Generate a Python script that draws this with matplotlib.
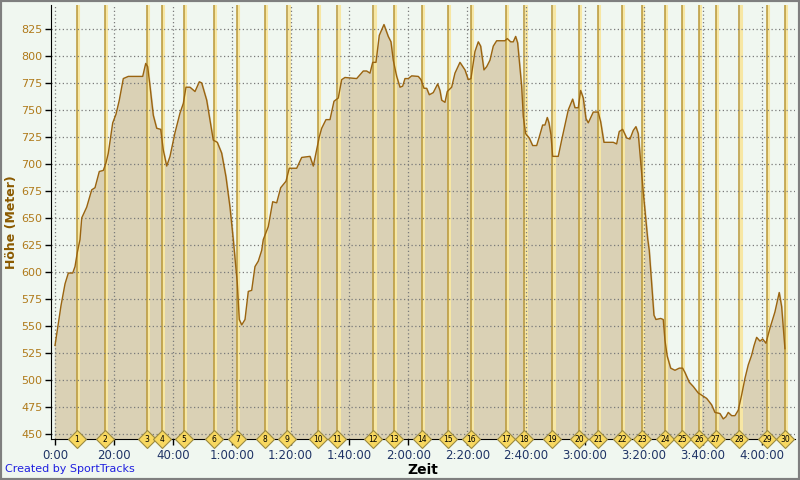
import matplotlib
matplotlib.use("Agg")
from matplotlib import pyplot as plt
from matplotlib.patches import Rectangle
from matplotlib.ticker import FuncFormatter, MultipleLocator

# elevation profile: time in minutes, height in metres
minutes = [0, 2.04, 3.40, 4.52, 6.01, 6.79, 7.57, 8.49, 9.07, 10.76, 12.46, 13.58,
           15.04, 16.40, 17.32, 18.10, 19.59, 20.71, 21.83, 23.19, 24.89, 27.16,
           29.78, 30.80, 31.48, 32.26, 33.38, 34.53, 35.89, 36.77, 37.93, 39.05,
           40.75, 42.44, 43.57, 44.48, 45.84, 47.54, 49.00, 49.81, 51.51, 53.75,
           55.11, 56.60, 58.06, 59.42, 60.54, 61.90, 62.58, 63.40, 64.52, 65.64,
           66.79, 67.91, 69.03, 70.19, 70.73, 72.43, 73.92, 75.28, 76.64, 78.44,
           79.56, 82.07, 83.77, 86.59, 87.71, 89.75, 90.56, 92.02, 93.38, 94.74,
           96.20, 97.35, 98.47, 102.44, 104.69, 105.84, 106.96, 107.88, 109.00,
           110.12, 111.71, 113.17, 114.09, 114.87, 116.03, 117.15, 118.06, 118.85,
           119.97, 121.12, 123.36, 124.28, 125.30, 126.21, 127.10, 128.45, 129.95,
           130.73, 131.31, 132.43, 133.21, 134.70, 135.82, 137.52, 139.22, 140.34,
           141.26, 142.61, 143.74, 144.55, 145.67, 146.59, 147.71, 148.83, 149.98,
           152.80, 153.58, 154.74, 155.62, 156.43, 157.11, 157.66, 158.47, 159.02,
           159.83, 161.05, 162.21, 163.57, 164.45, 165.60, 166.38, 167.17, 167.74,
           168.42, 169.00, 170.90, 172.05, 173.17, 174.30, 175.79, 176.57, 177.69,
           178.51, 179.39, 180.31, 181.09, 182.79, 184.48, 185.30, 186.42, 189.58,
           190.73, 191.61, 192.77, 194.13, 195.25, 196.37, 197.28, 198.07, 198.64,
           199.22, 200.00, 200.68, 201.26, 201.80, 202.61, 203.40, 204.07, 205.67,
           206.55, 207.13, 207.91, 209.07, 210.53, 211.99, 213.14, 213.92, 215.38,
           216.74, 218.44, 220.14, 221.29, 222.99, 224.11, 225.81, 226.93, 227.84,
           228.63, 229.78, 230.90, 232.02, 233.17, 234.30, 235.42, 236.57, 237.35,
           238.27, 239.39, 240.31, 241.43, 242.79, 244.48, 245.94, 246.76, 247.30,
           247.88]
height = [532, 569, 589, 599, 599, 605, 618, 630, 650, 660, 676, 678,
          693, 694, 701, 710, 738, 746, 759, 779, 781, 781,
          781, 793, 790, 772, 745, 733, 732, 713, 698, 707,
          729, 747, 756, 771, 771, 767, 776, 775, 759, 722,
          720, 710, 688, 660, 630, 590, 556, 551, 556, 582,
          583, 605, 610, 620, 630, 642, 665, 664, 678, 684,
          696, 696, 706, 707, 698, 725, 733, 741, 741, 758,
          761, 778, 780, 779, 786, 786, 784, 794, 794,
          819, 829, 818, 813, 796, 781, 771, 772, 779,
          779, 781.5, 781, 778, 770, 770, 764, 766, 774,
          768, 759, 757, 767, 771, 784, 794, 787, 778,
          779, 804, 813, 809, 787, 790, 796, 809, 814,
          814, 816, 813, 813, 818, 812, 796, 772, 744,
          728, 724, 717, 717, 725, 736, 736, 743, 738,
          727, 707, 707, 722, 736, 750, 760, 752, 752,
          768, 761, 742, 738, 748, 748, 739, 720, 720,
          718.5, 730, 732, 724, 723, 731, 734.5, 728, 710,
          691, 667, 648, 631, 620, 590, 560, 556, 557,
          556, 537, 522, 511, 509, 511, 511, 507, 498,
          494, 488, 485, 483, 477, 470, 469, 464, 466,
          470, 467, 467, 472, 486, 501.5, 514, 523, 531.5,
          539.5, 536, 538, 534, 548, 563, 581, 568, 549,
          529]

# lap markers (minutes)
lap_minutes = [7.47, 17.08, 31.34, 36.43, 43.8, 54.1, 61.9, 71.3, 78.9, 89.4,
               95.9, 108.1, 115.2, 124.7, 133.5, 141.3, 153.0, 159.4, 168.9, 177.9,
               184.5, 192.6, 199.4, 207.1, 213.0, 218.7, 224.4, 232.4, 241.9, 248.0]
lap_labels = [str(i) for i in range(1, 31)]

bg = "#F0F7F0"
fig = plt.figure(figsize=(8, 4.8), dpi=100, facecolor=bg)
fig.patches.append(Rectangle((0, 0), 1, 1, transform=fig.transFigure,
                             fill=False, edgecolor="#7F7F7F", linewidth=3))
ax = fig.add_axes([0.06375, 0.0854, 0.93, 0.904], facecolor=bg)

ymin, ymax = 445.4, 847
ax.fill_between(minutes, height, ymin, color="#DAD1B5", zorder=1)
ax.plot(minutes, height, color="#9A6410", lw=1.0, zorder=3)

for t in lap_minutes:
    ax.axvline(t + 0.4, color="#F7E7A4", lw=2.2, zorder=2)
    ax.axvline(t, color="#B8973A", lw=1.1, zorder=2)

ax.set_xlim(-1.36, 251.3)
ax.set_ylim(ymin, ymax)

ax.xaxis.set_major_locator(MultipleLocator(20))
ax.set_yticks(range(450, 826, 25))


def fmt_time(v, pos):
    m = int(round(v))
    h, mm = divmod(m, 60)
    if h == 0:
        return "%d:00" % mm
    return "%d:%02d:00" % (h, mm)


ax.xaxis.set_major_formatter(FuncFormatter(fmt_time))
ax.grid(True, color="#7A7A7A", linestyle=(0, (1, 2)), lw=0.9, zorder=2.5)
ax.set_axisbelow(False)

for s in ["top", "right"]:
    ax.spines[s].set_visible(False)
for s in ["left", "bottom"]:
    ax.spines[s].set_color("black")
    ax.spines[s].set_zorder(4)

ax.tick_params(axis="y", colors="black", labelcolor="#B07A1A", labelsize=8,
               length=4, width=1, direction="out", pad=2)
ax.tick_params(axis="x", colors="black", labelcolor="#1F3466", labelsize=8.5,
               length=4, width=1, direction="out", pad=3)

ax.set_ylabel("Höhe (Meter)", color="#8B5A00", fontsize=9, fontweight="bold")
ax.yaxis.set_label_coords(-0.044, 0.5)
ax.set_xlabel("Zeit", color="black", fontsize=10, fontweight="bold", labelpad=1)

ax.plot(lap_minutes, [ymin] * len(lap_minutes), linestyle="none", marker="D",
        markersize=9, markerfacecolor="#F8D860", markeredgecolor="#9A8A40",
        markeredgewidth=0.8, clip_on=False, zorder=5)
for t, lab in zip(lap_minutes, lap_labels):
    ax.text(t, ymin, lab, ha="center", va="center", fontsize=5.5,
            color="black", clip_on=False, zorder=6)

fig.text(0.006, 0.012, "Created by SportTracks", color="#2020E0", fontsize=8,
         ha="left", va="bottom")

fig.savefig("out.png", dpi=100, facecolor=bg)
